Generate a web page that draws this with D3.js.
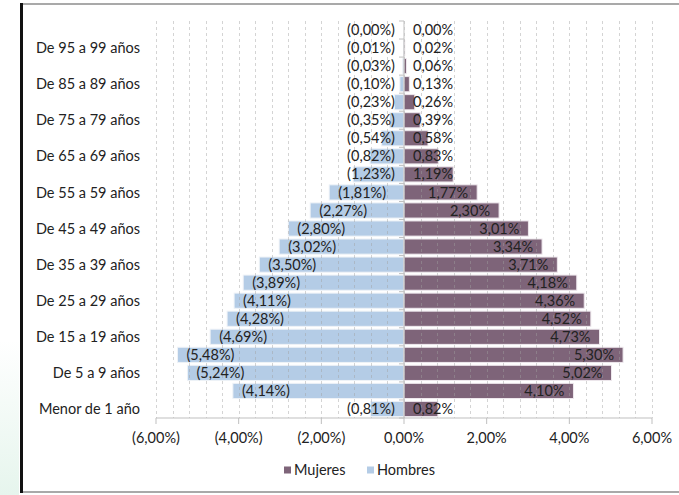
<!DOCTYPE html>
<meta charset="utf-8">
<style>
body { margin: 0; background: #fff; }
text { font-family: Lato, "Open Sans", sans-serif; fill: #222; }
</style>
<body>
<script src="https://d3js.org/d3.v7.min.js"></script>
<script>

// age groups, bottom to top
var categories = ["Menor de 1 año", "De 1 a 4 años", "De 5 a 9 años", "De 10 a 14 años",
  "De 15 a 19 años", "De 20 a 24 años", "De 25 a 29 años", "De 30 a 34 años",
  "De 35 a 39 años", "De 40 a 44 años", "De 45 a 49 años", "De 50 a 54 años",
  "De 55 a 59 años", "De 60 a 64 años", "De 65 a 69 años", "De 70 a 74 años",
  "De 75 a 79 años", "De 80 a 84 años", "De 85 a 89 años", "De 90 a 94 años",
  "De 95 a 99 años", "De 100 y más años"];

var hombres = [0.81, 4.14, 5.24, 5.48, 4.69, 4.28, 4.11, 3.89, 3.50, 3.02, 2.80,
  2.27, 1.81, 1.23, 0.82, 0.54, 0.35, 0.23, 0.10, 0.03, 0.01, 0.00];
var mujeres = [0.82, 4.10, 5.02, 5.30, 4.73, 4.52, 4.36, 4.18, 3.71, 3.34, 3.01,
  2.30, 1.77, 1.19, 0.83, 0.58, 0.39, 0.26, 0.13, 0.06, 0.02, 0.00];

var xTicks = [-6, -4, -2, 0, 2, 4, 6];
var legendItems = ["Mujeres", "Hombres"];

var colors = {Mujeres: "#7e6479", Hombres: "#b4cce6"};

var width = 679, height = 495;
var fs = "14.5px";

var svg = d3.select("body").append("svg")
    .attr("width", width)
    .attr("height", height);

// faint watermark outside the frame
var grad = svg.append("defs").append("linearGradient")
    .attr("id", "wm").attr("x1", 0).attr("y1", 0).attr("x2", 0).attr("y2", 1);
grad.append("stop").attr("offset", "0%").attr("stop-color", "#ffffff");
grad.append("stop").attr("offset", "100%").attr("stop-color", "#e6f5ed");
svg.append("rect").attr("x", 0).attr("y", 340).attr("width", 19).attr("height", 155)
    .attr("fill", "url(#wm)");

// frame
svg.append("line").attr("x1", 20).attr("x2", width).attr("y1", 4).attr("y2", 4)
    .attr("stroke", "#8c8c8c").attr("stroke-width", 1.5);
svg.append("line").attr("x1", 20).attr("x2", width).attr("y1", 492).attr("y2", 492)
    .attr("stroke", "#8c8c8c").attr("stroke-width", 1.5);
svg.append("line").attr("x1", 21.5).attr("x2", 21.5).attr("y1", 3).attr("y2", 493)
    .attr("stroke", "#111").attr("stroke-width", 3);

var x = d3.scaleLinear().domain([-6, 6]).range([156, 652]);
var y = d3.scaleBand().domain(d3.range(categories.length))
    .range([418, 21]).paddingInner(0.16).paddingOuter(0.08);

var fmt = d3.format(".2f");
function pct(v) { return fmt(Math.abs(v)).replace(".", ",") + "%"; }

var data = categories.map(function(c, i) {
  return {i: i, cat: c, h: hombres[i], m: mujeres[i]};
});

// bars
svg.append("g").selectAll("rect").data(data).enter().append("rect")
    .attr("x", function(d) { return x(-d.h); })
    .attr("y", function(d) { return y(d.i); })
    .attr("width", function(d) { return x(0) - x(-d.h); })
    .attr("height", y.bandwidth())
    .attr("fill", colors.Hombres)
    .attr("stroke", "#eef2f7").attr("stroke-width", 1);

svg.append("g").selectAll("rect").data(data).enter().append("rect")
    .attr("x", x(0))
    .attr("y", function(d) { return y(d.i); })
    .attr("width", function(d) { return x(d.m) - x(0); })
    .attr("height", y.bandwidth())
    .attr("fill", colors.Mujeres)
    .attr("stroke", "#eee8ed").attr("stroke-width", 1);

// dashed grid
svg.append("g").selectAll("line").data(d3.range(-6, 6.001, 0.4)).enter().append("line")
    .attr("x1", function(d) { return Math.round(x(d)) + 0.5; })
    .attr("x2", function(d) { return Math.round(x(d)) + 0.5; })
    .attr("y1", 21).attr("y2", 418)
    .attr("stroke", "#a0a0a0").attr("stroke-opacity", 0.45)
    .attr("stroke-dasharray", "3,3");

// zero axis with ticks at band edges
svg.append("line").attr("x1", x(0)).attr("x2", x(0)).attr("y1", 21).attr("y2", 418)
    .attr("stroke", "#bfbfbf");
svg.append("g").selectAll("line").data(d3.range(categories.length + 1)).enter().append("line")
    .attr("x1", x(0) - 5).attr("x2", x(0))
    .attr("y1", function(d) { return 418 - d * y.step(); })
    .attr("y2", function(d) { return 418 - d * y.step(); })
    .attr("stroke", "#bfbfbf");

// bottom axis
var xAxis = svg.append("g").attr("transform", "translate(0,418)");
xAxis.append("line").attr("x1", x(-6)).attr("x2", x(6)).attr("stroke", "#bfbfbf");
xAxis.selectAll(".tk").data(xTicks).enter().append("line")
    .attr("x1", function(d) { return x(d); }).attr("x2", function(d) { return x(d); })
    .attr("y1", 0).attr("y2", 6).attr("stroke", "#bfbfbf");
xAxis.selectAll("text").data(xTicks).enter().append("text")
    .attr("x", function(d) { return x(d); })
    .attr("y", 25)
    .attr("text-anchor", "middle")
    .style("font-size", fs)
    .text(function(d) { return d < 0 ? "(" + pct(d) + ")" : pct(d); });

// category labels (every second)
svg.append("g").selectAll("text").data(data.filter(function(d) { return d.i % 2 === 0 && d.i < 21; }))
  .enter().append("text")
    .attr("x", 140)
    .attr("y", function(d) { return y(d.i) + y.bandwidth() / 2; })
    .attr("dy", "0.35em")
    .attr("text-anchor", "end")
    .style("font-size", fs)
    .text(function(d) { return d.cat; });

// value labels, inside end
var pad = 9;
svg.append("g").selectAll("text").data(data).enter().append("text")
    .attr("y", function(d) { return y(d.i) + y.bandwidth() / 2; })
    .attr("dy", "0.35em")
    .style("font-size", fs)
    .text(function(d) { return "(" + pct(d.h) + ")"; })
    .attr("x", function(d) {
      var w = this.getComputedTextLength();
      return Math.min(x(-d.h) + pad, x(0) - pad - w);
    });

svg.append("g").selectAll("text").data(data).enter().append("text")
    .attr("y", function(d) { return y(d.i) + y.bandwidth() / 2; })
    .attr("dy", "0.35em")
    .style("font-size", fs)
    .text(function(d) { return pct(d.m); })
    .attr("x", function(d) {
      var w = this.getComputedTextLength();
      return Math.max(x(0) + pad, x(d.m) - pad - w);
    });

// legend
var lx = [284, 367];
var leg = svg.append("g").selectAll("g").data(legendItems).enter().append("g")
    .attr("transform", function(d, i) { return "translate(" + lx[i] + ",470)"; });
leg.append("rect").attr("x", 0).attr("y", -3.5).attr("width", 7).attr("height", 7)
    .attr("fill", function(d) { return colors[d]; });
leg.append("text").attr("x", 10).attr("dy", "0.35em")
    .style("font-size", fs)
    .text(function(d) { return d; });

</script>
</body>
